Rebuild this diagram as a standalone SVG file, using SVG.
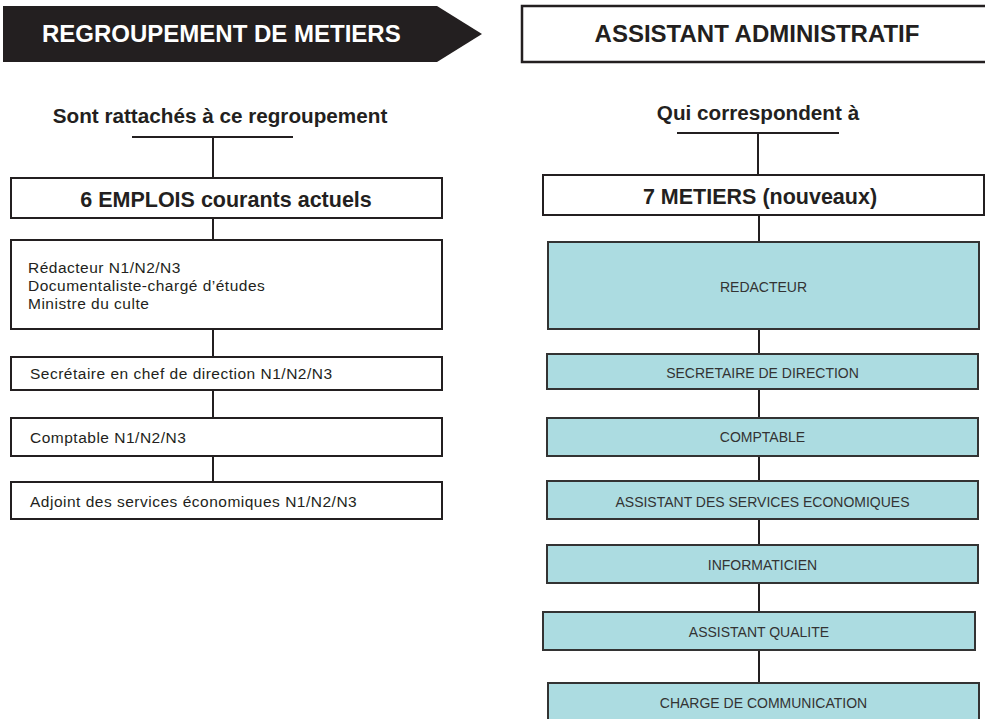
<svg xmlns="http://www.w3.org/2000/svg" width="985" height="719" viewBox="0 0 985 719">
<style>
.t{font-family:"Liberation Sans",Arial,sans-serif;fill:#231f20}
.b{font-weight:bold}
.box{fill:#fff;stroke:#231f20;stroke-width:2}
.tb{fill:#acdce1;stroke:#333;stroke-width:2}
.ln{stroke:#231f20;stroke-width:2;fill:none}
.s17{font-size:15.5px;letter-spacing:0.5px}
.s14{font-size:14px;fill:#333}
.h{font-size:20.7px}
.h2{font-size:21.5px}
</style>
<rect width="985" height="719" fill="#fff"/>
<g id="banner-left">
<polygon points="3,6 437,6 482,34 437,62 3,62" fill="#231f20"/>
<text class="t b" x="42" y="42" font-size="24" style="fill:#fff">REGROUPEMENT DE METIERS</text>
</g>
<g id="banner-right">
<rect x="522" y="6" width="470" height="56" fill="#fff" stroke="#231f20" stroke-width="2.5"/>
<text class="t b" x="757" y="42" font-size="24" text-anchor="middle">ASSISTANT ADMINISTRATIF</text>
</g>
<g id="label-left">
<text class="t b h" x="220" y="123" text-anchor="middle">Sont rattachés à ce regroupement</text>
</g>
<g id="label-right">
<text class="t b h" x="758" y="120" text-anchor="middle">Qui correspondent à</text>
</g>
<g id="connectors">
<line class="ln" x1="132" y1="137" x2="293" y2="137"/>
<line class="ln" x1="213" y1="137" x2="213" y2="178"/>
<line class="ln" x1="213" y1="218" x2="213" y2="240"/>
<line class="ln" x1="213" y1="329" x2="213" y2="357"/>
<line class="ln" x1="213" y1="390" x2="213" y2="418"/>
<line class="ln" x1="213" y1="456" x2="213" y2="482"/>
<line class="ln" x1="677" y1="133" x2="839" y2="133"/>
<line class="ln" x1="758" y1="133" x2="758" y2="175"/>
<line class="ln" x1="759" y1="215" x2="759" y2="242"/>
<line class="ln" x1="759" y1="329" x2="759" y2="354"/>
<line class="ln" x1="759" y1="389" x2="759" y2="418"/>
<line class="ln" x1="759" y1="456" x2="759" y2="481"/>
<line class="ln" x1="759" y1="519" x2="759" y2="545"/>
<line class="ln" x1="759" y1="583" x2="759" y2="612"/>
<line class="ln" x1="759" y1="650" x2="759" y2="683"/>
</g>
<g id="emplois">
<rect class="box" x="11" y="178" width="431" height="40"/>
<text class="t b h2" x="226" y="207" text-anchor="middle">6 EMPLOIS courants actuels</text>
</g>
<g id="emploi-1">
<rect class="box" x="11" y="240" width="431" height="89"/>
<text class="t s17" x="28" y="273">Rédacteur N1/N2/N3</text>
<text class="t s17" x="28" y="291">Documentaliste-chargé d’études</text>
<text class="t s17" x="28" y="309">Ministre du culte</text>
</g>
<g id="emploi-2">
<rect class="box" x="11" y="357" width="431" height="33"/>
<text class="t s17" x="30" y="379">Secrétaire en chef de direction N1/N2/N3</text>
</g>
<g id="emploi-3">
<rect class="box" x="11" y="418" width="431" height="38"/>
<text class="t s17" x="30" y="443">Comptable N1/N2/N3</text>
</g>
<g id="emploi-4">
<rect class="box" x="11" y="482" width="431" height="37"/>
<text class="t s17" x="30" y="507">Adjoint des services économiques N1/N2/N3</text>
</g>
<g id="metiers">
<rect class="box" x="543" y="175" width="441" height="40"/>
<text class="t b h2" x="760" y="204" text-anchor="middle">7 METIERS (nouveaux)</text>
</g>
<g id="m-redacteur">
<rect class="tb" x="548" y="242" width="431" height="87"/>
<text class="t s14" x="763.5" y="292" text-anchor="middle">REDACTEUR</text>
</g>
<g id="m-secretaire">
<rect class="tb" x="547" y="354" width="431" height="35"/>
<text class="t s14" x="762.5" y="378" text-anchor="middle">SECRETAIRE DE DIRECTION</text>
</g>
<g id="m-comptable">
<rect class="tb" x="547" y="418" width="431" height="38"/>
<text class="t s14" x="762.5" y="442" text-anchor="middle">COMPTABLE</text>
</g>
<g id="m-ase">
<rect class="tb" x="547" y="481" width="431" height="38"/>
<text class="t s14" x="762.5" y="507" text-anchor="middle">ASSISTANT DES SERVICES ECONOMIQUES</text>
</g>
<g id="m-informaticien">
<rect class="tb" x="547" y="545" width="431" height="38"/>
<text class="t s14" x="762.5" y="570" text-anchor="middle">INFORMATICIEN</text>
</g>
<g id="m-qualite">
<rect class="tb" x="543" y="612" width="432" height="38"/>
<text class="t s14" x="759" y="637" text-anchor="middle">ASSISTANT QUALITE</text>
</g>
<g id="m-communication">
<rect class="tb" x="548" y="683" width="431" height="40"/>
<text class="t s14" x="763.5" y="708" text-anchor="middle">CHARGE DE COMMUNICATION</text>
</g>
</svg>
